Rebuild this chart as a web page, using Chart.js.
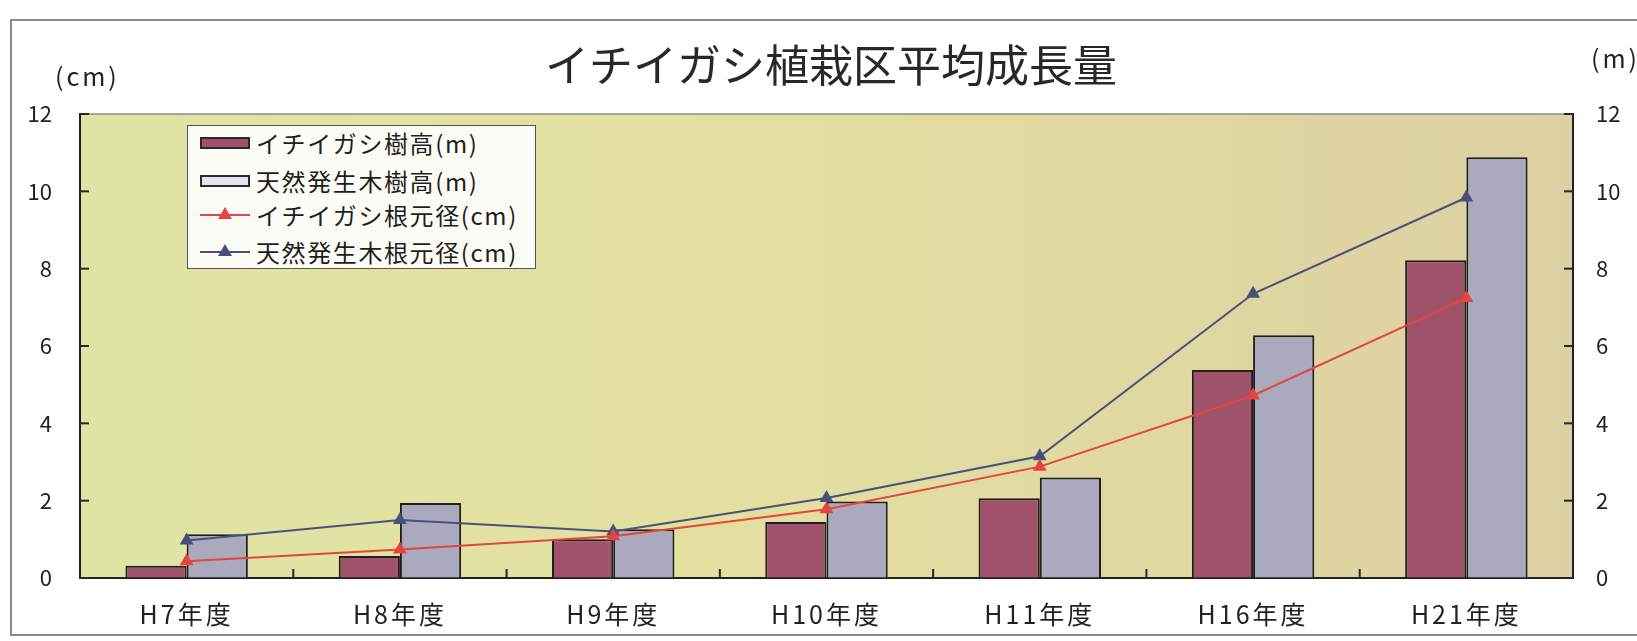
<!DOCTYPE html>
<html lang="ja">
<head>
<meta charset="utf-8">
<title>イチイガシ植栽区平均成長量</title>
<script src="https://cdn.jsdelivr.net/npm/chart.js@4.4.1/dist/chart.umd.min.js"></script>
<style>
  html, body { margin: 0; padding: 0; background: #fff; }
  body {
    width: 1637px; height: 641px; position: relative; overflow: hidden;
    font-family: "Noto Sans CJK JP", "Noto Sans", sans-serif; color: #222;
  }
  #frame {
    position: absolute; left: 10px; top: 19px; width: 1660px; height: 617px;
    border: 2px solid #8a8a8a; box-sizing: border-box;
  }
  #chart { position: absolute; left: 0; top: 0; }
  .title {
    position: absolute; left: 531px; top: 37px; width: 600px; text-align: center;
    font-size: 44px; line-height: 52px; color: #2a2824; white-space: nowrap;
  }
  .unit {
    position: absolute; font-size: 25px; line-height: 28px; letter-spacing: 3px;
    color: #222; white-space: nowrap;
  }
  #legend {
    position: absolute; left: 187px; top: 125px; width: 349px; height: 144px;
    border: 1.5px solid #555; background: #fcfcf6; box-sizing: border-box;
  }
  .row { position: absolute; left: 0; height: 30px; width: 100%; }
  .row .txt {
    position: absolute; left: 68px; top: 0; line-height: 30px; font-size: 24px;
    letter-spacing: 1.6px; white-space: nowrap; color: #1e1e1e;
  }
  .sw-bar {
    position: absolute; left: 12px; top: 9px; width: 50px; height: 12px;
    border: 2px solid #2a2a2a; box-sizing: border-box;
  }
  .sw-line { position: absolute; left: 12px; top: 14px; width: 50px; height: 2px; }
  .sw-tri {
    position: absolute; left: 30px; top: 7px; width: 14px; height: 12px;
    clip-path: polygon(50% 0, 100% 100%, 0 100%);
  }
</style>
</head>
<body>
<div id="frame"></div>
<canvas id="chart" width="1637" height="641"></canvas>
<div class="title" id="title"></div>
<div class="unit" id="unitLeft" style="left:55px; top:61px;"></div>
<div class="unit" id="unitRight" style="left:1591px; top:43px;"></div>
<div id="legend"></div>

<script>
// ---- data ----
const chartTitle = 'イチイガシ植栽区平均成長量';
const categories = ['H7年度', 'H8年度', 'H9年度', 'H10年度', 'H11年度', 'H16年度', 'H21年度'];
const seriesNames = ['イチイガシ樹高(m)', '天然発生木樹高(m)', 'イチイガシ根元径(cm)', '天然発生木根元径(cm)'];

// tree height, metres (right axis)
const ichiiHeight   = [0.32, 0.57, 1.00, 1.45, 2.06, 5.38, 8.22];
const naturalHeight = [1.13, 1.94, 1.26, 1.98, 2.60, 6.28, 10.88];

// root collar diameter, centimetres (left axis)
const ichiiDiameter   = [0.43, 0.74, 1.08, 1.78, 2.88, 4.72, 7.24];
const naturalDiameter = [0.97, 1.50, 1.20, 2.07, 3.15, 7.35, 9.84];

const diameterTicks = [0, 2, 4, 6, 8, 10, 12];
const heightTicks   = [0, 2, 4, 6, 8, 10, 12];
const unitLeft  = '(cm)';
const unitRight = '(m)';

// ---- styling ----
const FONT = '"Noto Sans CJK JP", "Noto Sans", sans-serif';
const colors = {
  ichiiBar:   '#a0526a',
  naturalBar: '#aba9be',
  barEdge:    '#1f1f1f',
  ichiiLine:  '#e2463c',
  naturalLine:'#46527a',
  axis:       '#222'
};

document.getElementById('title').textContent = chartTitle;
document.getElementById('unitLeft').textContent = unitLeft;
document.getElementById('unitRight').textContent = unitRight;

// legend box
(function buildLegend() {
  const box = document.getElementById('legend');
  const rowTops = [2, 40, 74, 111];
  const kinds = [
    { t: 'bar', c: colors.ichiiBar },
    { t: 'bar', c: '#e6e4ec' },
    { t: 'line', c: colors.ichiiLine },
    { t: 'line', c: colors.naturalLine }
  ];
  seriesNames.forEach((name, i) => {
    const row = document.createElement('div');
    row.className = 'row';
    row.style.top = rowTops[i] + 'px';
    const k = kinds[i];
    if (k.t === 'bar') {
      const s = document.createElement('div');
      s.className = 'sw-bar'; s.style.background = k.c;
      row.appendChild(s);
    } else {
      const l = document.createElement('div');
      l.className = 'sw-line'; l.style.background = k.c;
      const tri = document.createElement('div');
      tri.className = 'sw-tri'; tri.style.background = k.c;
      row.appendChild(l); row.appendChild(tri);
    }
    const t = document.createElement('div');
    t.className = 'txt'; t.textContent = name;
    row.appendChild(t);
    box.appendChild(row);
  });
})();

// plot-area fill, top border and short inward tick marks
const plotFrame = {
  id: 'plotFrame',
  beforeDraw(chart) {
    const { ctx, chartArea: { left, top, right, bottom } } = chart;
    const g = ctx.createLinearGradient(left, 0, right, 0);
    g.addColorStop(0, '#dfe4a4');
    g.addColorStop(0.45, '#e4dfa1');
    g.addColorStop(1, '#ddd0a2');
    ctx.save();
    ctx.fillStyle = g;
    ctx.fillRect(left, top, right - left, bottom - top);
    ctx.strokeStyle = '#8d8d82';
    ctx.lineWidth = 1.5;
    ctx.beginPath();
    ctx.moveTo(left, top);
    ctx.lineTo(right, top);
    ctx.stroke();
    ctx.restore();
  },
  afterDraw(chart) {
    const ctx = chart.ctx;
    const { left, right, bottom } = chart.chartArea;
    const len = 9;
    const yl = chart.scales.y, yr = chart.scales.y1, xs = chart.scales.x;
    ctx.save();
    ctx.strokeStyle = '#262626';
    ctx.lineWidth = 2;
    diameterTicks.forEach(v => {
      const py = yl.getPixelForValue(v);
      ctx.beginPath(); ctx.moveTo(left, py); ctx.lineTo(left + len, py); ctx.stroke();
    });
    heightTicks.forEach(v => {
      const py = yr.getPixelForValue(v);
      ctx.beginPath(); ctx.moveTo(right, py); ctx.lineTo(right - len, py); ctx.stroke();
    });
    for (let i = 1; i < categories.length; i++) {
      const px = (xs.getPixelForValue(i - 1) + xs.getPixelForValue(i)) / 2;
      ctx.beginPath(); ctx.moveTo(px, bottom); ctx.lineTo(px, bottom - len); ctx.stroke();
    }
    ctx.restore();
  }
};

// wider spacing for the category labels
const spacedCategoryLabels = {
  id: 'spacedCategoryLabels',
  afterLayout(chart) {
    const s = chart.scales.x;
    if (s && !s.__spaced) {
      const orig = s.drawLabels;
      s.drawLabels = function (area) {
        const c = this.ctx;
        c.save();
        c.letterSpacing = '3px';
        orig.call(this, area);
        c.restore();
      };
      s.__spaced = true;
    }
  }
};

const valueAxis = (position, ticksList, pad, width) => ({
  position,
  min: 0,
  max: 12,
  afterBuildTicks(scale) { scale.ticks = ticksList.map(v => ({ value: v })); },
  ticks: { font: { family: FONT, size: 22 }, color: colors.axis, padding: pad },
  grid: { drawOnChartArea: false, drawTicks: false },
  border: { display: true, color: colors.axis, width: 2 },
  afterFit(scale) { scale.width = width; }
});

new Chart(document.getElementById('chart'), {
  type: 'bar',
  data: {
    labels: categories,
    datasets: [
      {
        type: 'line', label: seriesNames[2], data: ichiiDiameter, yAxisID: 'y', order: 0,
        borderColor: colors.ichiiLine, borderWidth: 2, tension: 0,
        pointStyle: 'triangle', pointRadius: 6,
        pointBackgroundColor: colors.ichiiLine, pointBorderColor: colors.ichiiLine
      },
      {
        type: 'line', label: seriesNames[3], data: naturalDiameter, yAxisID: 'y', order: 0,
        borderColor: colors.naturalLine, borderWidth: 2, tension: 0,
        pointStyle: 'triangle', pointRadius: 6,
        pointBackgroundColor: colors.naturalLine, pointBorderColor: colors.naturalLine
      },
      {
        label: seriesNames[0], data: ichiiHeight, yAxisID: 'y1', order: 1,
        backgroundColor: colors.ichiiBar, borderColor: colors.barEdge, borderWidth: 2,
        categoryPercentage: 0.574, barPercentage: 1.0
      },
      {
        label: seriesNames[1], data: naturalHeight, yAxisID: 'y1', order: 1,
        backgroundColor: colors.naturalBar, borderColor: colors.barEdge, borderWidth: 2,
        categoryPercentage: 0.574, barPercentage: 1.0
      }
    ]
  },
  options: {
    responsive: false,
    animation: false,
    devicePixelRatio: 1,
    layout: { padding: { left: 20, right: 0, top: 114, bottom: 13 } },
    plugins: {
      legend: { display: false },
      title: { display: false },
      tooltip: { enabled: false }
    },
    scales: {
      x: {
        offset: true,
        grid: { offset: true, drawOnChartArea: false, drawTicks: false },
        border: { display: true, color: colors.axis, width: 2 },
        ticks: { font: { family: FONT, size: 25 }, color: colors.axis, padding: 21, maxRotation: 0, autoSkip: false },
        afterFit(scale) { scale.height = 50; }
      },
      y: valueAxis('left', diameterTicks, 28, 60),
      y1: valueAxis('right', heightTicks, 23, 64)
    }
  },
  plugins: [plotFrame, spacedCategoryLabels]
});
</script>
</body>
</html>
